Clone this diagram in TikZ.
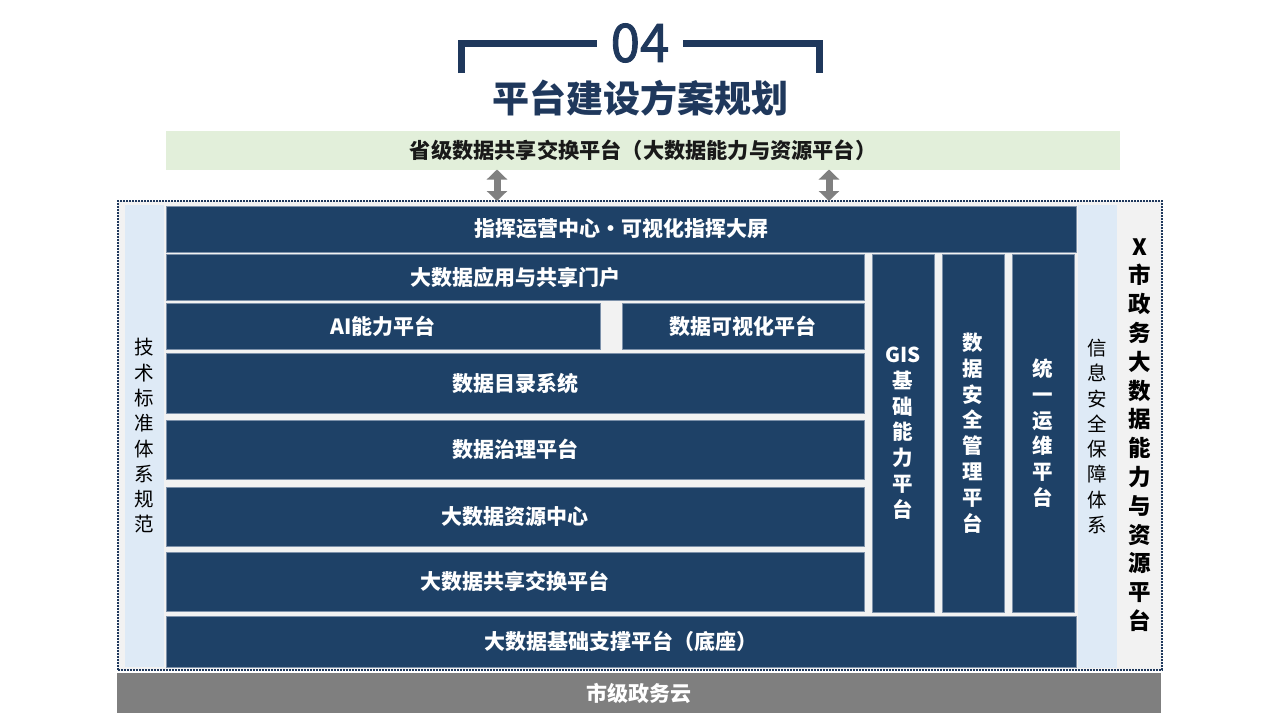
\documentclass[tikz,border=0pt]{standalone}
\usepackage{fontspec}
\setmainfont{Noto Sans CJK SC}
\newfontfamily\numfont{Noto Sans CJK SC}[FakeBold=1.6]
\usetikzlibrary{arrows.meta}
\definecolor{navy}{RGB}{30,65,103}
\definecolor{edgec}{RGB}{125,145,170}
\definecolor{titlec}{RGB}{31,56,92}
\definecolor{lblue}{RGB}{222,234,246}
\definecolor{lgreen}{RGB}{226,239,218}
\definecolor{barc}{RGB}{127,127,127}
\definecolor{bgc}{RGB}{242,242,242}
\definecolor{arrc}{RGB}{128,128,128}
\begin{document}
\begin{tikzpicture}[x=1pt,y=-1pt,
  blk/.style={draw=edgec, line width=0.8pt, fill=navy, text=white, inner sep=0pt, outer sep=0pt,
    font=\bfseries\fontsize{21}{24}\selectfont},
  vblk/.style={blk, align=center, font=\bfseries\fontsize{20.5}{25.8}\selectfont},
  side/.style={fill=lblue, draw=none, inner sep=0pt, outer sep=0pt},
  sidetxt/.style={align=center, text=black, font=\fontsize{19.5}{25.3}\selectfont, inner sep=0pt},
  dbl/.style={arrc, line width=7pt, {Triangle[width=20pt,length=10pt]}-{Triangle[width=20pt,length=10pt]}},
  brk/.style={titlec, line width=7pt}
]
\useasboundingbox (0,0) rectangle (1280,720);
\fill[white] (0,0) rectangle (1280,720);

% title
\node[text=titlec, font=\numfont\fontsize{53}{58}\selectfont, inner sep=0pt] (num) at (640,43) {04};
\coordinate (bl1) at (461,73);
\coordinate (bl2) at (461,43);
\coordinate (bl3) at (597,43);
\coordinate (br1) at (683,43);
\coordinate (br2) at (819,43);
\coordinate (br3) at (819,73);
\draw[brk] (bl1) -- (bl2) -- (bl3);
\draw[brk] (br1) -- (br2) -- (br3);
\node[text=titlec, font=\bfseries\fontsize{37}{42}\selectfont, inner sep=0pt] (title) at (640,98) {平台建设方案规划};

% provincial bar
\node[fill=lgreen, minimum width=954pt, minimum height=39pt, inner sep=0pt, outer sep=0pt,
  text=black!90, font=\bfseries\fontsize{21.2}{24}\selectfont] (prov) at (643,150) {省级数据共享交换平台（大数据能力与资源平台）};

% frame
\node[fill=bgc, draw=titlec, line width=1.6pt, dash pattern=on 1.6pt off 1.4pt,
  minimum width=1044pt, minimum height=469pt, inner sep=0pt, outer sep=0pt] (frame) at (640,435.5) {};

% arrows
\coordinate (a1) at (497,0);
\coordinate (a2) at (829,0);
\draw[dbl] (prov.south -| a1) -- (frame.north -| a1);
\draw[dbl] (prov.south -| a2) -- (frame.north -| a2);

% side columns
\node[side, minimum width=39pt, minimum height=462pt] (lcol) at (144.5,436) {};
\node[side, minimum width=39pt, minimum height=463pt] (rcol) at (1097.5,436.5) {};
\node[sidetxt] (ltxt) at (lcol.center) {技\\术\\标\\准\\体\\系\\规\\范};
\node[sidetxt] (rtxt) at (rcol.center) {信\\息\\安\\全\\保\\障\\体\\系};
\node[sidetxt, font=\bfseries\fontsize{22.5}{28.8}\selectfont] (xtxt) at (1140,435) {X\\市\\政\\务\\大\\数\\据\\能\\力\\与\\资\\源\\平\\台};

% main blocks
\node[blk, minimum width=910pt, minimum height=46pt] (cmd) at (621,229) {指挥运营中心·可视化指挥大屏};
\node[blk, minimum width=698pt, minimum height=46pt] (portal) at (515,277) {大数据应用与共享门户};
\node[blk, minimum width=434pt, minimum height=46pt] (ai) at (383,326) {AI能力平台};
\node[blk, minimum width=242pt, minimum height=46pt] (vis) at (743,326) {数据可视化平台};
\node[blk, minimum width=698pt, minimum height=60pt] (cat) at (515,383) {数据目录系统};
\node[blk, minimum width=698pt, minimum height=59pt] (gov) at (515,449.5) {数据治理平台};
\node[blk, minimum width=698pt, minimum height=59pt] (res) at (515,516.5) {大数据资源中心};
\node[blk, minimum width=698pt, minimum height=59pt] (exch) at (515,581.5) {大数据共享交换平台};
\node[blk, minimum width=910pt, minimum height=51pt] (base) at (621,641.5) {大数据基础支撑平台（底座）};

% vertical blocks
\node[blk, minimum width=62pt, minimum height=358pt] (gis) at (903,433) {};
\node[blk, minimum width=62pt, minimum height=358pt] (sec) at (973,433) {};
\node[blk, minimum width=62pt, minimum height=358pt] (ops) at (1043,433) {};
\node[vblk, draw=none, fill=none] (gist) at (gis.center) {GIS\\基\\础\\能\\力\\平\\台};
\node[vblk, draw=none, fill=none] (sect) at (sec.center) {数\\据\\安\\全\\管\\理\\平\\台};
\node[vblk, draw=none, fill=none] (opst) at (ops.center) {统\\一\\运\\维\\平\\台};

% bottom bar
\node[fill=barc, minimum width=1044pt, minimum height=40pt, inner sep=0pt, outer sep=0pt,
  text=white, font=\bfseries\fontsize{21}{24}\selectfont] (cloud) at (639,693) {市级政务云};
\end{tikzpicture}
\end{document}
